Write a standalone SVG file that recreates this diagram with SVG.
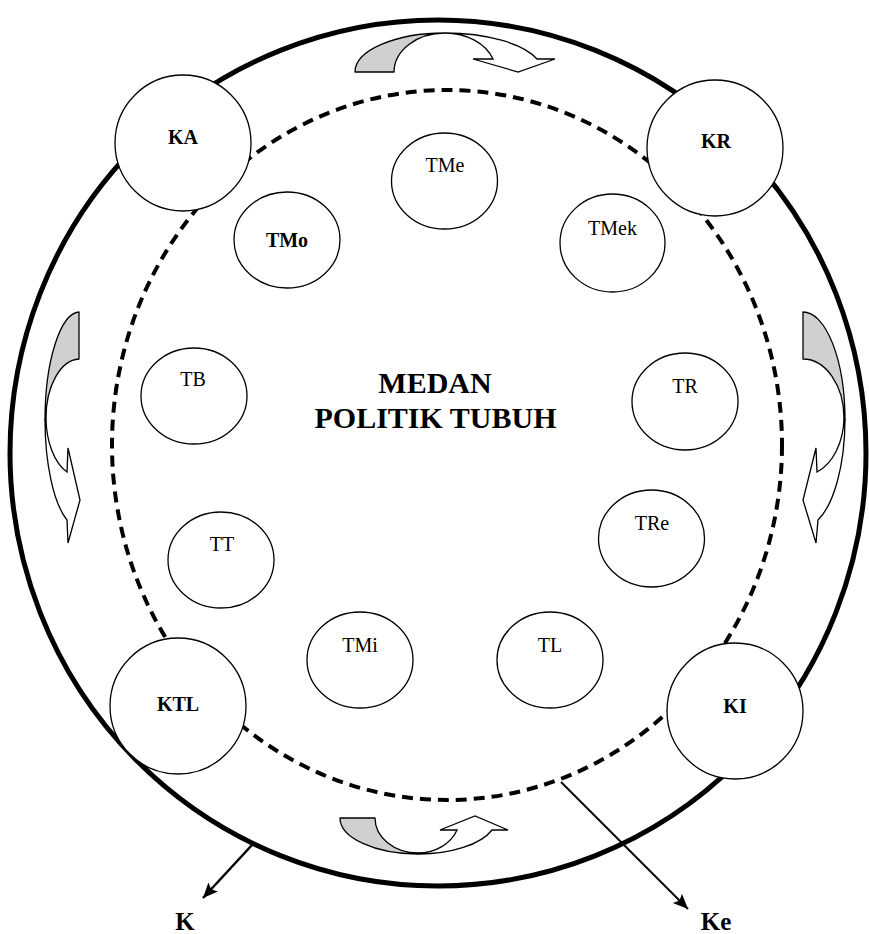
<svg xmlns="http://www.w3.org/2000/svg" width="869" height="934" viewBox="0 0 869 934">
<defs>
<style>
.ring{fill:none;stroke:#000}
.nd{fill:#fff;stroke:#000;stroke-width:1.3}
.t{font-family:"Liberation Serif","Times New Roman",serif;font-size:20px;text-anchor:middle;fill:#000}
.b{font-weight:bold}
.big{font-size:30px}
.lab{font-size:25px}
.grey{fill:#d0d0d0;stroke:#000;stroke-width:1.3;stroke-linejoin:round}
.white{fill:#fff;stroke:#000;stroke-width:1.3;stroke-linejoin:miter}
.conn{stroke:#000;fill:none}
</style>
<marker id="ah" markerUnits="userSpaceOnUse" markerWidth="16" markerHeight="14" refX="15" refY="6.5" orient="auto">
<path d="M0,0 L15,6.5 L0,13 L3,6.5 Z" fill="#000"/>
</marker>
</defs>
<rect width="869" height="934" fill="#fff"/>

<g id="rings">
<ellipse class="ring" cx="438" cy="453" rx="428" ry="433" stroke-width="5"/>
<ellipse class="ring" cx="447" cy="445" rx="335" ry="355" stroke-width="4" stroke-dasharray="11 7"/>
</g>

<g id="cycle-arrows">
<g id="arrow-top">
<path class="grey" d="M355,72 A90,39 0 0 1 445,33 A51,39 0 0 0 394,72 Z"/>
<path class="white" d="M445,33 A98,39 0 0 1 537,59 L555,59 L518,72 L473,59 L493,59 A51,39 0 0 0 445,33 Z"/>
</g>
<g id="arrow-right">
<path class="grey" d="M803,312 A42,108 0 0 1 845,420 L844,418 A41,59 0 0 0 803,359 Z"/>
<path class="white" d="M845,420 A42,108 0 0 1 818,520 L816,543 L803,500 L816,448 L817,472 A41,59 0 0 0 844,418 Z"/>
</g>
<g id="arrow-bottom">
<path class="grey" d="M340,818 L375,818 A43,35 0 0 0 418,853 L418,854 A78,36 0 0 1 340,818 Z"/>
<path class="white" d="M418,854 A78,36 0 0 0 492,830 L508,830 L475,816 L440,830 L457,830 A42,35 0 0 1 418,853 Z"/>
</g>
<g id="arrow-left">
<path class="grey" d="M79,312 A35,108 0 0 0 45,420 L46,418 A34,59 0 0 1 79,359 Z"/>
<path class="white" d="M45,420 A35,108 0 0 0 67,520 L68,543 L80,500 L68,448 L67,472 A34,59 0 0 1 46,418 Z"/>
</g>
</g>

<g id="connectors">
<line class="conn" x1="252" y1="845" x2="203" y2="898" stroke-width="2.5" marker-end="url(#ah)"/>
<line class="conn" x1="561" y1="782" x2="688" y2="909" stroke-width="2" marker-end="url(#ah)"/>
</g>

<g id="KA"><circle class="nd" cx="183" cy="143" r="68"/><text class="t b" x="183" y="144">KA</text></g>
<g id="KR"><circle class="nd" cx="715" cy="148" r="68"/><text class="t b" x="716" y="148">KR</text></g>
<g id="KTL"><circle class="nd" cx="178" cy="706" r="68"/><text class="t b" x="178" y="711">KTL</text></g>
<g id="KI"><circle class="nd" cx="735" cy="711" r="68"/><text class="t b" x="735" y="713">KI</text></g>

<g id="TMe"><ellipse class="nd" cx="444.5" cy="181" rx="53" ry="48"/><text class="t" x="445" y="172">TMe</text></g>
<g id="TMek"><ellipse class="nd" cx="612.5" cy="243" rx="52.5" ry="49"/><text class="t" x="612.5" y="235">TMek</text></g>
<g id="TMo"><ellipse class="nd" cx="287" cy="240" rx="53" ry="48"/><text class="t b" x="287" y="247">TMo</text></g>
<g id="TB"><ellipse class="nd" cx="194" cy="396" rx="53" ry="48"/><text class="t" x="193" y="386">TB</text></g>
<g id="TR"><ellipse class="nd" cx="685" cy="401.5" rx="53" ry="48.5"/><text class="t" x="685" y="393">TR</text></g>
<g id="TT"><ellipse class="nd" cx="221" cy="560" rx="53" ry="48"/><text class="t" x="222" y="551">TT</text></g>
<g id="TRe"><ellipse class="nd" cx="651.5" cy="538.5" rx="53" ry="48.5"/><text class="t" x="652" y="530">TRe</text></g>
<g id="TMi"><ellipse class="nd" cx="360" cy="660" rx="53" ry="48"/><text class="t" x="360" y="652">TMi</text></g>
<g id="TL"><ellipse class="nd" cx="550" cy="660" rx="53" ry="48"/><text class="t" x="550" y="652">TL</text></g>

<g id="title">
<text class="t b big" x="435" y="393">MEDAN</text>
<text class="t b big" x="435.5" y="428">POLITIK TUBUH</text>
</g>

<g id="labels">
<text class="t b lab" x="185" y="930">K</text>
<text class="t b lab" x="716" y="930">Ke</text>
</g>
</svg>
